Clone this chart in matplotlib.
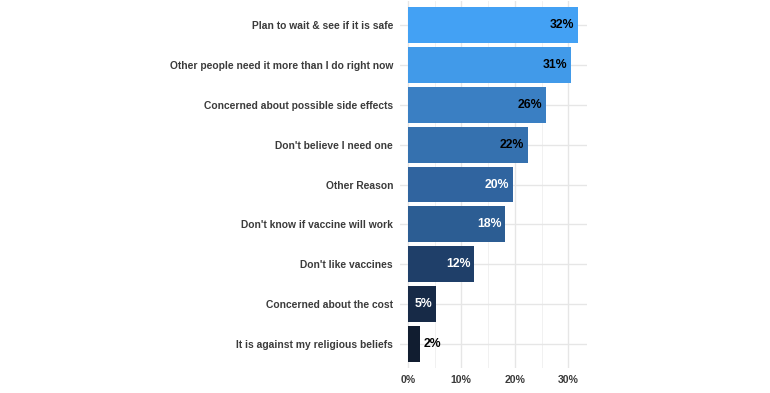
import matplotlib
matplotlib.use("Agg")
import matplotlib.pyplot as plt
from matplotlib.ticker import FixedLocator, FuncFormatter

categories = [
    "Plan to wait & see if it is safe",
    "Other people need it more than I do right now",
    "Concerned about possible side effects",
    "Don't believe I need one",
    "Other Reason",
    "Don't know if vaccine will work",
    "Don't like vaccines",
    "Concerned about the cost",
    "It is against my religious beliefs",
]
values = [31.8, 30.6, 25.9, 22.4, 19.6, 18.2, 12.4, 5.3, 2.3]
bar_colors = ["#43a1f4", "#419ae9", "#3a7fc3", "#3571af", "#30649f", "#2c5d93",
              "#1f3f69", "#172a47", "#111d30"]
label_colors = ["black", "black", "black", "black", "white", "white", "white", "white", "black"]
x_ticks = [0, 10, 20, 30]

plt.rcParams['font.family'] = ['Liberation Sans', 'DejaVu Sans']

fig = plt.figure(figsize=(7.7, 3.93), dpi=100)
ax = fig.add_axes([400 / 770, 1 - 368 / 393, 187 / 770, 367 / 393])

ypos = list(range(len(categories)))
ax.barh(ypos, values, height=0.9, color=bar_colors, zorder=3)

for y, v, c in zip(ypos, values, label_colors):
    txt = f"{round(v)}%"
    if v > 4:
        ax.text(v - 0.7, y, txt, ha="right", va="center", color=c,
                fontsize=8.8, fontweight="bold", zorder=4)
    else:
        ax.text(v + 0.7, y, txt, ha="left", va="center", color=c,
                fontsize=8.8, fontweight="bold", zorder=4)

ax.set_ylim(len(categories) - 0.4, -0.6)
ax.set_xlim(-1.45, 33.5)
ax.set_yticks(ypos)
ax.set_yticklabels(categories)
ax.xaxis.set_major_locator(FixedLocator(x_ticks))
ax.xaxis.set_minor_locator(FixedLocator([5, 15, 25]))
ax.xaxis.set_major_formatter(FuncFormatter(lambda v, p: f"{int(v)}%"))

ax.grid(True, which="major", axis="both", color="#e6e6e6", linewidth=1.0, zorder=0)
ax.grid(True, which="minor", axis="x", color="#efefef", linewidth=0.6, zorder=0)
for s in ax.spines.values():
    s.set_visible(False)
ax.tick_params(axis="both", which="both", length=0)
ax.tick_params(axis="y", pad=5, labelsize=7.4, labelcolor="#3b3b3b")
ax.tick_params(axis="x", pad=5, labelsize=7.6, labelcolor="#3b3b3b")
for lbl in ax.get_yticklabels() + ax.get_xticklabels():
    lbl.set_fontweight("bold")

fig.savefig("out.png", dpi=100)
